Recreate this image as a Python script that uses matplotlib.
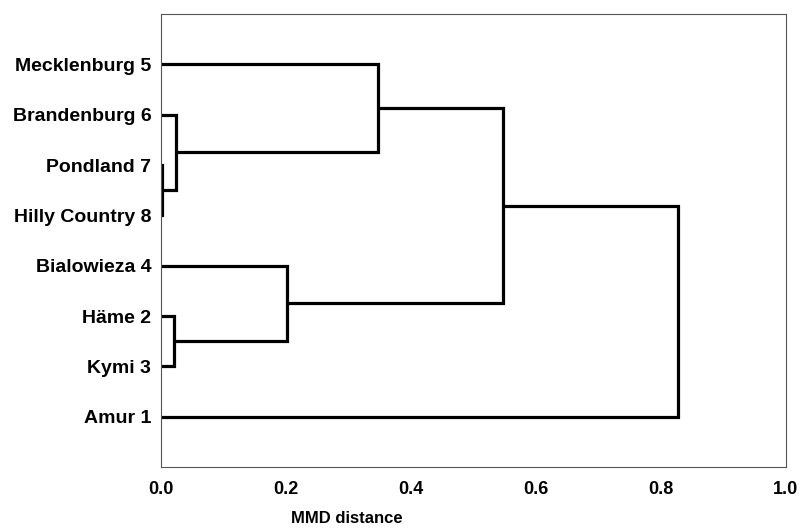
import matplotlib
matplotlib.use("Agg")
import matplotlib.pyplot as plt

# leaves from top to bottom
leaves = ["Mecklenburg 5", "Brandenburg 6", "Pondland 7", "Hilly Country 8",
          "Bialowieza 4", "Häme 2", "Kymi 3", "Amur 1"]

# merges: (left cluster, right cluster, MMD distance)
merges = [
    ("Pondland 7", "Hilly Country 8", 0.002),
    ("Brandenburg 6", "c0", 0.024),
    ("Mecklenburg 5", "c1", 0.347),
    ("Häme 2", "Kymi 3", 0.021),
    ("Bialowieza 4", "c3", 0.202),
    ("c2", "c4", 0.547),
    ("c5", "Amur 1", 0.827),
]
ticks = [0.0, 0.2, 0.4, 0.6, 0.8, 1.0]

plt.rcParams['font.family'] = ['Liberation Sans', 'DejaVu Sans']

fig = plt.figure(figsize=(8.05, 5.28), dpi=100)
ax = fig.add_axes([0.2, 0.1155, 0.776, 0.858])

pos = {name: (i + 1, 0.0) for i, name in enumerate(leaves)}
lw = 2.3
for k, (a, b, h) in enumerate(merges):
    ya, xa = pos[a]
    yb, xb = pos[b]
    ax.plot([xa, h, h, xb], [ya, ya, yb, yb], color="black", lw=lw,
            solid_joinstyle="miter", solid_capstyle="butt")
    pos["c%d" % k] = ((ya + yb) / 2, h)

ax.set_xlim(0, 1.0)
ax.set_ylim(9, 0)
ax.set_yticks(range(1, len(leaves) + 1))
ax.set_yticklabels(leaves, fontsize=14, fontweight="bold")
ax.set_xticks(ticks)
ax.set_xticklabels(["%.1f" % t for t in ticks], fontsize=13, fontweight="bold")
ax.tick_params(axis="y", length=0, pad=7)
ax.tick_params(axis="x", length=0, pad=10)
for s in ax.spines.values():
    s.set_color("#555555")
    s.set_linewidth(0.8)

ax.set_xlabel("MMD distance", fontsize=12, fontweight="bold")
ax.xaxis.set_label_coords(0.298, -0.097)

fig.savefig("out.png", dpi=100)
